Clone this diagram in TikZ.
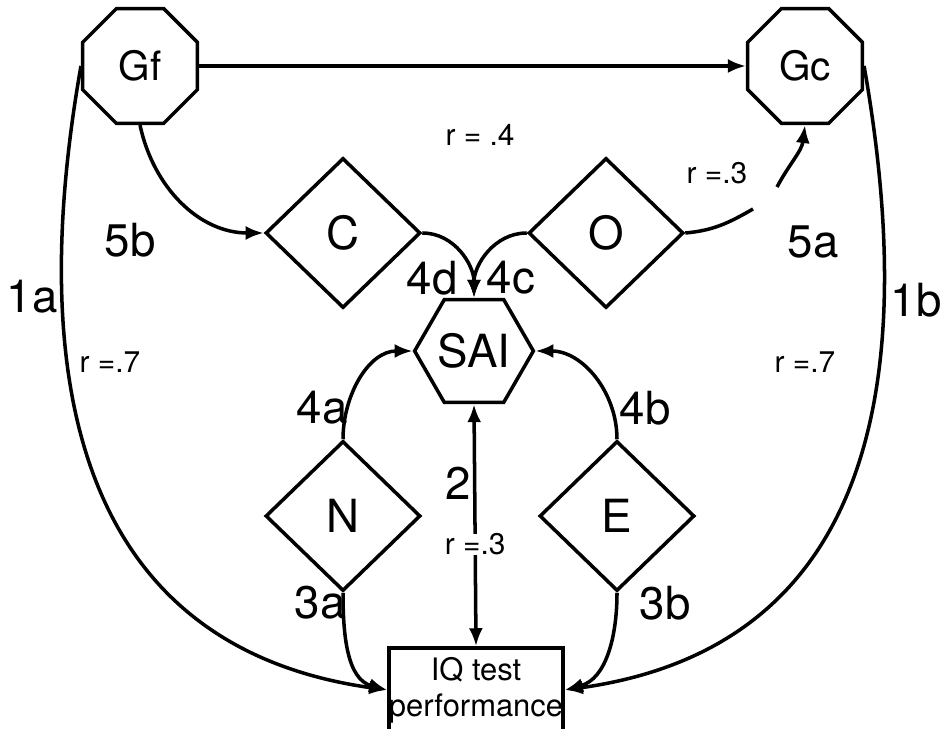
\documentclass[tikz,border=0pt]{standalone}
\usepackage{fontspec}
\setmainfont{TeX Gyre Heros}
\usetikzlibrary{shapes.geometric,arrows.meta}

\begin{document}
\begin{tikzpicture}[x=1mm, y=1mm, line width=1pt,
    >={Latex[length=1.8mm,width=1.4mm]},
    oct/.style={draw, regular polygon, regular polygon sides=8, minimum size=12.4mm, inner sep=0pt, font=\fontsize{11.5}{13}\selectfont},
    hexa/.style={draw, regular polygon, regular polygon sides=6, minimum size=10.5mm, inner sep=0pt, font=\fontsize{13}{15}\selectfont},
    dia/.style={draw, diamond, minimum width=15.5mm, minimum height=15mm, inner sep=0pt, font=\fontsize{13}{15}\selectfont},
    lab/.style={font=\fontsize{13}{15}\selectfont, inner sep=0pt},
    rlab/.style={font=\fontsize{8.5}{10}\selectfont, inner sep=0pt}]
\useasboundingbox (0,0) rectangle (94.2,72.8);

% factors
\node[oct] (Gf) at (14.0,66.2) {Gf};
\node[oct] (Gc) at (80.5,66.2) {Gc};
\node[hexa] (SAI) at (47.4,37.7) {SAI};
\node[dia] (C) at (34.3,49.5) {C};
\node[dia] (O) at (60.6,49.5) {O};
\node[dia] (N) at (34.3,21.2) {N};
\node[dia] (E) at (61.7,21.2) {E};
\node[draw, minimum width=17.2mm, minimum height=8.4mm, inner sep=0pt, align=center,
      font=\fontsize{8.8}{10.3}\selectfont] (IQ) at (47.6,3.8) {IQ test\\performance};

% paths
\draw[->] (Gf.east)--(Gc.west);
\draw[->] (Gf.south) to[out=-78,in=180] (C.west);
\draw[->] (C.east) to[out=0,in=90] (SAI.north);
\draw[->] (O.west) to[out=180,in=90] (SAI.north);
\coordinate (gapA) at (75.3,51.9);
\coordinate (gapB) at (77.7,54.1);
\draw (O.east) to[out=5,in=210] (gapA);
\draw[->] (gapB) to[out=62,in=-97] (Gc.south);
\draw[->] (N.north) to[out=90,in=180] (SAI.west);
\draw[->] (E.north) to[out=90,in=0] (SAI.east);
\draw[<->] (SAI.south)--(IQ.north)
    node[pos=0.58, fill=white, inner sep=0.8mm, rlab] (r2) {r =.3};
\draw[->] (N.south) to[out=-90,in=165] (IQ.west);
\draw[->] (E.south) to[out=-90,in=15] (IQ.east);
\draw[->] (Gf.west) .. controls +(-100:34) and +(172:30) .. (IQ.west);
\draw[->] (Gc.east) .. controls +(-80:34) and +(8:30) .. (IQ.east);

% path labels
\node[lab] (l1a) at (3.2,43.1) {1a};
\node[lab] (l1b) at (91.6,42.8) {1b};
\node[lab] (l5b) at (13.0,48.8) {5b};
\node[lab] (l5a) at (81.3,48.6) {5a};
\node[lab] (l4d) at (43.2,45.0) {4d};
\node[lab] (l4c) at (51.1,45.0) {4c};
\node[lab] (l4a) at (32.2,32.0) {4a};
\node[lab] (l4b) at (64.5,32.0) {4b};
\node[lab] (l2) at (45.8,24.5) {2};
\node[lab] (l3a) at (32.0,12.5) {3a};
\node[lab] (l3b) at (66.5,12.5) {3b};
\node[rlab] (r4) at (48.0,59.3) {r = .4};
\node[rlab] (r3) at (71.7,55.5) {r =.3};
\node[rlab] (r7a) at (11.0,36.6) {r =.7};
\node[rlab] (r7b) at (80.5,36.6) {r =.7};

\end{tikzpicture}
\end{document}
